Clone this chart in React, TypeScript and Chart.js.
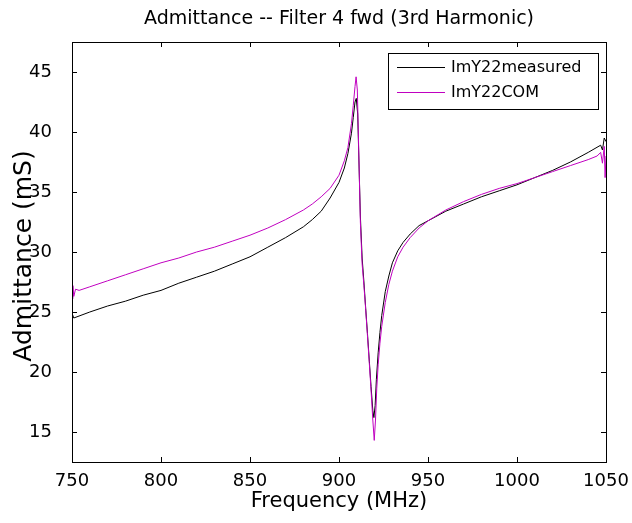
import React, { useEffect, useRef } from "react";
import { Chart, registerables } from "chart.js";

Chart.register(...registerables);

const titleText = "Admittance -- Filter 4 fwd (3rd Harmonic)";
const xLabel = "Frequency (MHz)";
const yLabel = "Admittance (mS)";

const xTicks = [750, 800, 850, 900, 950, 1000, 1050];
const yTicks = [15, 20, 25, 30, 35, 40, 45];

const measuredFreq = [750, 751, 760, 770, 780, 790, 800, 810, 820, 830, 840, 850, 860, 870, 880, 885, 890, 895, 900, 903, 905, 907, 908, 909, 909.7, 910.5, 911.3, 912, 913, 914, 915, 916, 917, 918, 919, 919.6, 920.3, 921, 922, 923, 924, 926, 928, 930, 933, 936, 940, 945, 950, 960, 970, 980, 990, 1000, 1010, 1020, 1030, 1040, 1047, 1048, 1049, 1050];
const measuredVal = [24.9, 24.5, 25.0, 25.5, 25.9, 26.4, 26.8, 27.4, 27.9, 28.4, 29.0, 29.6, 30.4, 31.2, 32.1, 32.7, 33.4, 34.5, 35.8, 37.0, 38.2, 39.9, 41.2, 42.5, 42.8, 41.5, 37.0, 33.0, 29.5, 27.5, 25.3, 23.2, 21.0, 18.8, 16.8, 16.2, 17.2, 19.4, 21.6, 23.3, 24.7, 26.7, 28.0, 29.1, 30.1, 30.8, 31.5, 32.2, 32.6, 33.4, 34.0, 34.6, 35.1, 35.6, 36.2, 36.8, 37.5, 38.3, 38.9, 38.5, 39.5, 39.2];

const comFreq = [750, 750.5, 751, 752, 754, 760, 770, 780, 790, 800, 810, 820, 830, 840, 850, 860, 870, 880, 885, 890, 895, 900, 903, 905, 907, 908, 909, 909.6, 910.3, 911, 912, 913, 914, 915, 916, 917, 918, 919, 919.8, 920.5, 921.2, 922, 923, 924, 926, 928, 930, 933, 936, 940, 945, 950, 960, 970, 980, 990, 1000, 1010, 1020, 1030, 1040, 1045, 1047, 1048, 1049, 1049.5, 1050];
const comVal = [26.1, 27.2, 26.3, 26.9, 26.8, 27.1, 27.6, 28.1, 28.6, 29.1, 29.5, 30.0, 30.4, 30.9, 31.4, 32.0, 32.7, 33.5, 34.0, 34.6, 35.3, 36.4, 37.6, 38.7, 40.7, 42.2, 43.8, 44.6, 43.5, 39.0, 32.5, 29.0, 27.2, 25.2, 23.0, 20.8, 18.5, 16.0, 14.3, 16.0, 18.6, 20.6, 22.4, 23.8, 25.8, 27.3, 28.4, 29.6, 30.4, 31.2, 32.0, 32.6, 33.5, 34.2, 34.8, 35.3, 35.7, 36.2, 36.7, 37.2, 37.7, 38.0, 38.3, 37.4, 38.8, 36.2, 38.0];

const seriesNames = ["ImY22measured", "ImY22COM"];
const seriesColors = ["#000000", "#c000c0"];

const FONT = "'DejaVu Sans', sans-serif";

const framePlugin = {
  id: "frame",
  afterDraw(chart: any) {
    const { ctx, chartArea: a, scales } = chart;
    ctx.save();
    ctx.strokeStyle = "#000";
    ctx.lineWidth = 1;
    ctx.strokeRect(Math.round(a.left) + 0.5, Math.round(a.top) + 0.5, Math.round(a.right - a.left), Math.round(a.bottom - a.top));
    const tl = 5;
    ctx.beginPath();
    scales.x.ticks.forEach((t: any) => {
      const px = Math.round(scales.x.getPixelForValue(t.value)) + 0.5;
      ctx.moveTo(px, a.bottom); ctx.lineTo(px, a.bottom - tl);
      ctx.moveTo(px, a.top); ctx.lineTo(px, a.top + tl);
    });
    scales.y.ticks.forEach((t: any) => {
      const py = Math.round(scales.y.getPixelForValue(t.value)) + 0.5;
      ctx.moveTo(a.left, py); ctx.lineTo(a.left + tl, py);
      ctx.moveTo(a.right, py); ctx.lineTo(a.right - tl, py);
    });
    ctx.stroke();

    // title
    ctx.fillStyle = "#000";
    ctx.font = "19px " + FONT;
    ctx.textAlign = "center";
    ctx.textBaseline = "middle";
    ctx.fillText(titleText, (a.left + a.right) / 2, 19);

    // y axis label
    ctx.save();
    ctx.translate(24, (a.top + a.bottom) / 2 + 4);
    ctx.rotate(-Math.PI / 2);
    ctx.font = "25px " + FONT;
    ctx.fillText(yLabel, 0, 0);
    ctx.restore();

    // legend
    const bx0 = 388, bx1 = a.right - 8, by0 = a.top + 11, by1 = a.top + 67;
    ctx.fillStyle = "#fff";
    ctx.fillRect(bx0, by0, bx1 - bx0, by1 - by0);
    ctx.strokeStyle = "#000";
    ctx.strokeRect(bx0 + 0.5, by0 + 0.5, bx1 - bx0, by1 - by0);
    ctx.font = "16px " + FONT;
    ctx.textAlign = "left";
    seriesNames.forEach((name, i) => {
      const y = by0 + 14 + i * 25;
      ctx.strokeStyle = seriesColors[i];
      ctx.beginPath();
      ctx.moveTo(bx0 + 9, y + 0.5);
      ctx.lineTo(bx0 + 57, y + 0.5);
      ctx.stroke();
      ctx.fillStyle = "#000";
      ctx.fillText(name, bx0 + 63, y + 1);
    });
    ctx.restore();
  },
};

export default function App() {
  const ref = useRef<HTMLCanvasElement>(null);
  useEffect(() => {
    if (!ref.current) return;
    Chart.defaults.font.family = FONT;
    const chart = new Chart(ref.current, {
      type: "line",
      data: {
        datasets: [
          {
            label: seriesNames[0],
            data: measuredFreq.map((x, i) => ({ x, y: measuredVal[i] })),
            borderColor: seriesColors[0],
            borderWidth: 1,
            pointRadius: 0,
            tension: 0,
            order: 1,
          },
          {
            label: seriesNames[1],
            data: comFreq.map((x, i) => ({ x, y: comVal[i] })),
            borderColor: seriesColors[1],
            borderWidth: 1,
            pointRadius: 0,
            tension: 0,
            order: 0,
          },
        ],
      },
      options: {
        animation: false,
        responsive: false,
        layout: { padding: { top: 42, right: 26, left: 0, bottom: 0 } },
        plugins: { legend: { display: false }, title: { display: false }, tooltip: { enabled: false } },
        scales: {
          x: {
            type: "linear",
            min: 750,
            max: 1050,
            grid: { display: false },
            border: { display: false },
            afterBuildTicks: (s: any) => { s.ticks = xTicks.map((v) => ({ value: v })); },
            afterFit: (s: any) => { s.height = 61; },
            ticks: { color: "#000", font: { size: 18 }, padding: 1, maxRotation: 0, autoSkip: false, callback: (v: any) => String(v) },
            title: { display: true, text: xLabel, color: "#000", font: { size: 21, lineHeight: 1 }, padding: { top: 0, bottom: 11 } },
          },
          y: {
            type: "linear",
            min: 12.5,
            max: 47.5,
            grid: { display: false },
            border: { display: false },
            afterBuildTicks: (s: any) => { s.ticks = yTicks.map((v) => ({ value: v })); },
            afterFit: (s: any) => { s.width = 72; },
            ticks: { color: "#000", font: { size: 18 }, padding: 12, autoSkip: false, callback: (v: any) => String(v) },
            title: { display: false },
          },
        },
      },
      plugins: [framePlugin],
    } as any);
    return () => chart.destroy();
  }, []);
  return (
    <div style={{ position: "fixed", left: 0, top: 0, width: 632, height: 523, background: "#fff" }}>
      <canvas ref={ref} width={632} height={523} />
    </div>
  );
}
